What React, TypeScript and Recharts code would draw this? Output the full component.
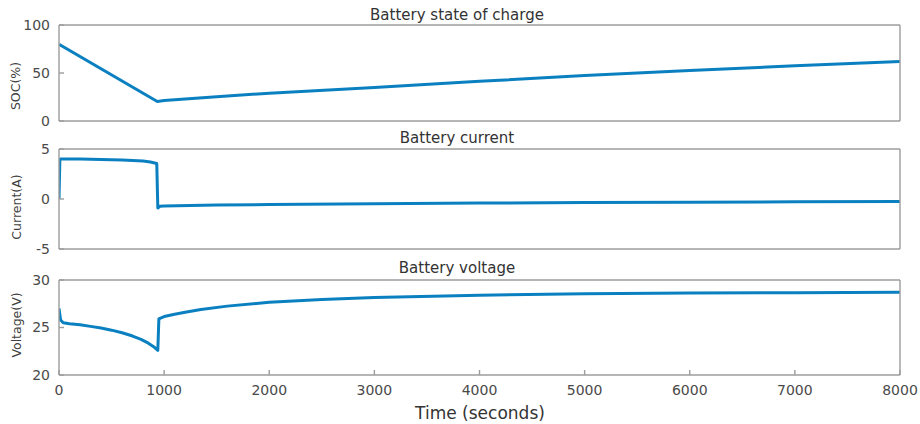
import { LineChart, Line, XAxis, YAxis } from "recharts";

const TIME_TICKS = [0, 1000, 2000, 3000, 4000, 5000, 6000, 7000, 8000];

const SOC_TICKS = [0, 50, 100];
const SOC_TIME = [0, 935, 1000, 1500, 2000, 3000, 4000, 5000, 6000, 7000, 8000];
const SOC_VALUES = [80, 20.3, 21.3, 25.3, 29, 35, 41.3, 47.3, 52.7, 57.5, 62];

const CURRENT_TICKS = [-5, 0, 5];
const CURRENT_TIME = [0, 8, 15, 200, 400, 600, 700, 800, 870, 930, 940, 960, 1000, 1500, 2000, 3000, 4000, 5000, 6000, 7000, 8000];
const CURRENT_VALUES = [0, 3.9, 4.0, 3.99, 3.96, 3.91, 3.86, 3.79, 3.7, 3.55, -0.9, -0.72, -0.7, -0.6, -0.55, -0.47, -0.41, -0.36, -0.32, -0.28, -0.25];

const VOLTAGE_TICKS = [20, 25, 30];
const VOLTAGE_TIME = [0, 15, 40, 100, 200, 300, 400, 500, 600, 700, 780, 850, 900, 940, 950, 1000, 1100, 1200, 1350, 1600, 2000, 2500, 3000, 4000, 5000, 6000, 7000, 8000];
const VOLTAGE_VALUES = [27, 25.8, 25.5, 25.4, 25.28, 25.12, 24.95, 24.72, 24.45, 24.1, 23.75, 23.35, 22.98, 22.6, 25.9, 26.15, 26.4, 26.6, 26.9, 27.25, 27.65, 27.95, 28.15, 28.4, 28.55, 28.62, 28.67, 28.7];

const W = 920;
const H = 424;
const PLOT_LEFT = 59;
const PLOT_RIGHT = 900;
const LEFT_AXIS_W = 50;
const RIGHT_AXIS_W = 10;
const AXIS = "#9c9c9c";
const LINE = "#0b80c0";
const FONT = "'DejaVu Sans', sans-serif";
const TICK_STYLE = { fontSize: 14, fill: "#4a4a4a", fontFamily: FONT };

const toRows = (t: number[], v: number[]) => t.map((x, i) => ({ t: x, v: v[i] }));

interface PanelProps {
  time: number[];
  values: number[];
  domain: [number, number];
  ticks: number[];
  top: number;
  bottom: number;
  timeLabels?: boolean;
}

function Panel({ time, values, domain, ticks, top, bottom, timeLabels }: PanelProps) {
  const bottomH = timeLabels ? 40 : 1;
  return (
    <LineChart
      width={W}
      height={H}
      data={toRows(time, values)}
      margin={{
        top: top - 1,
        right: W - PLOT_RIGHT - RIGHT_AXIS_W,
        bottom: H - bottom - bottomH,
        left: PLOT_LEFT - LEFT_AXIS_W,
      }}
      style={{ position: "absolute", left: 0, top: 0 }}
    >
      <XAxis
        xAxisId="b"
        dataKey="t"
        type="number"
        domain={[0, 8000]}
        ticks={TIME_TICKS}
        height={bottomH}
        stroke={AXIS}
        strokeWidth={1.4}
        tickLine={timeLabels ? { stroke: AXIS, strokeWidth: 1.4 } : false}
        tickSize={-5}
        tickMargin={15}
        tick={timeLabels ? TICK_STYLE : false}
        interval={0}
        allowDataOverflow
      />
      <XAxis
        xAxisId="t"
        orientation="top"
        type="number"
        domain={[0, 8000]}
        ticks={TIME_TICKS}
        height={1}
        stroke={AXIS}
        strokeWidth={1.4}
        tickLine={timeLabels ? { stroke: AXIS, strokeWidth: 1.4 } : false}
        tickSize={-5}
        tick={false}
        interval={0}
      />
      <YAxis
        yAxisId="l"
        type="number"
        domain={domain}
        ticks={ticks}
        width={LEFT_AXIS_W}
        stroke={AXIS}
        strokeWidth={1.4}
        tickLine={{ stroke: AXIS, strokeWidth: 1.4 }}
        tickSize={-5}
        tickMargin={14}
        tick={TICK_STYLE}
        interval={0}
        allowDataOverflow
      />
      <YAxis
        yAxisId="r"
        orientation="right"
        type="number"
        domain={domain}
        ticks={ticks}
        width={RIGHT_AXIS_W}
        stroke={AXIS}
        strokeWidth={1.4}
        tickLine={{ stroke: AXIS, strokeWidth: 1.4 }}
        tickSize={-5}
        tick={false}
        interval={0}
      />
      <Line
        xAxisId="b"
        yAxisId="l"
        dataKey="v"
        type="linear"
        stroke={LINE}
        strokeWidth={3}
        strokeLinejoin="round"
        dot={false}
        isAnimationActive={false}
      />
    </LineChart>
  );
}

const textBase: React.CSSProperties = {
  position: "absolute",
  fontFamily: FONT,
  whiteSpace: "nowrap",
  lineHeight: 1,
};

function Title({ text, x, y }: { text: string; x: number; y: number }) {
  return (
    <div style={{ ...textBase, left: x, top: y, fontSize: 15, color: "#333", transform: "translate(-50%, -50%)" }}>
      {text}
    </div>
  );
}

function YLabel({ text, x, y }: { text: string; x: number; y: number }) {
  return (
    <div
      style={{
        ...textBase,
        left: x,
        top: y,
        fontSize: 12.5,
        color: "#404040",
        transform: "translate(-50%, -50%) rotate(-90deg)",
      }}
    >
      {text}
    </div>
  );
}

export default function App() {
  return (
    <div style={{ position: "absolute", left: 0, top: 0, width: W, height: H, background: "#fff", overflow: "hidden" }}>
      <Panel time={SOC_TIME} values={SOC_VALUES} domain={[0, 100]} ticks={SOC_TICKS} top={25} bottom={121} />
      <Panel time={CURRENT_TIME} values={CURRENT_VALUES} domain={[-5, 5]} ticks={CURRENT_TICKS} top={149} bottom={249} />
      <Panel time={VOLTAGE_TIME} values={VOLTAGE_VALUES} domain={[20, 30]} ticks={VOLTAGE_TICKS} top={280} bottom={375} timeLabels />

      <Title text="Battery state of charge" x={457} y={15} />
      <Title text="Battery current" x={457} y={138} />
      <Title text="Battery voltage" x={457} y={268} />

      <YLabel text="SOC(%)" x={16} y={86} />
      <YLabel text="Current(A)" x={17} y={207} />
      <YLabel text="Voltage(V)" x={17} y={325} />

      <div style={{ ...textBase, left: 480, top: 413, fontSize: 17, color: "#333", transform: "translate(-50%, -50%)" }}>
        Time (seconds)
      </div>
    </div>
  );
}
